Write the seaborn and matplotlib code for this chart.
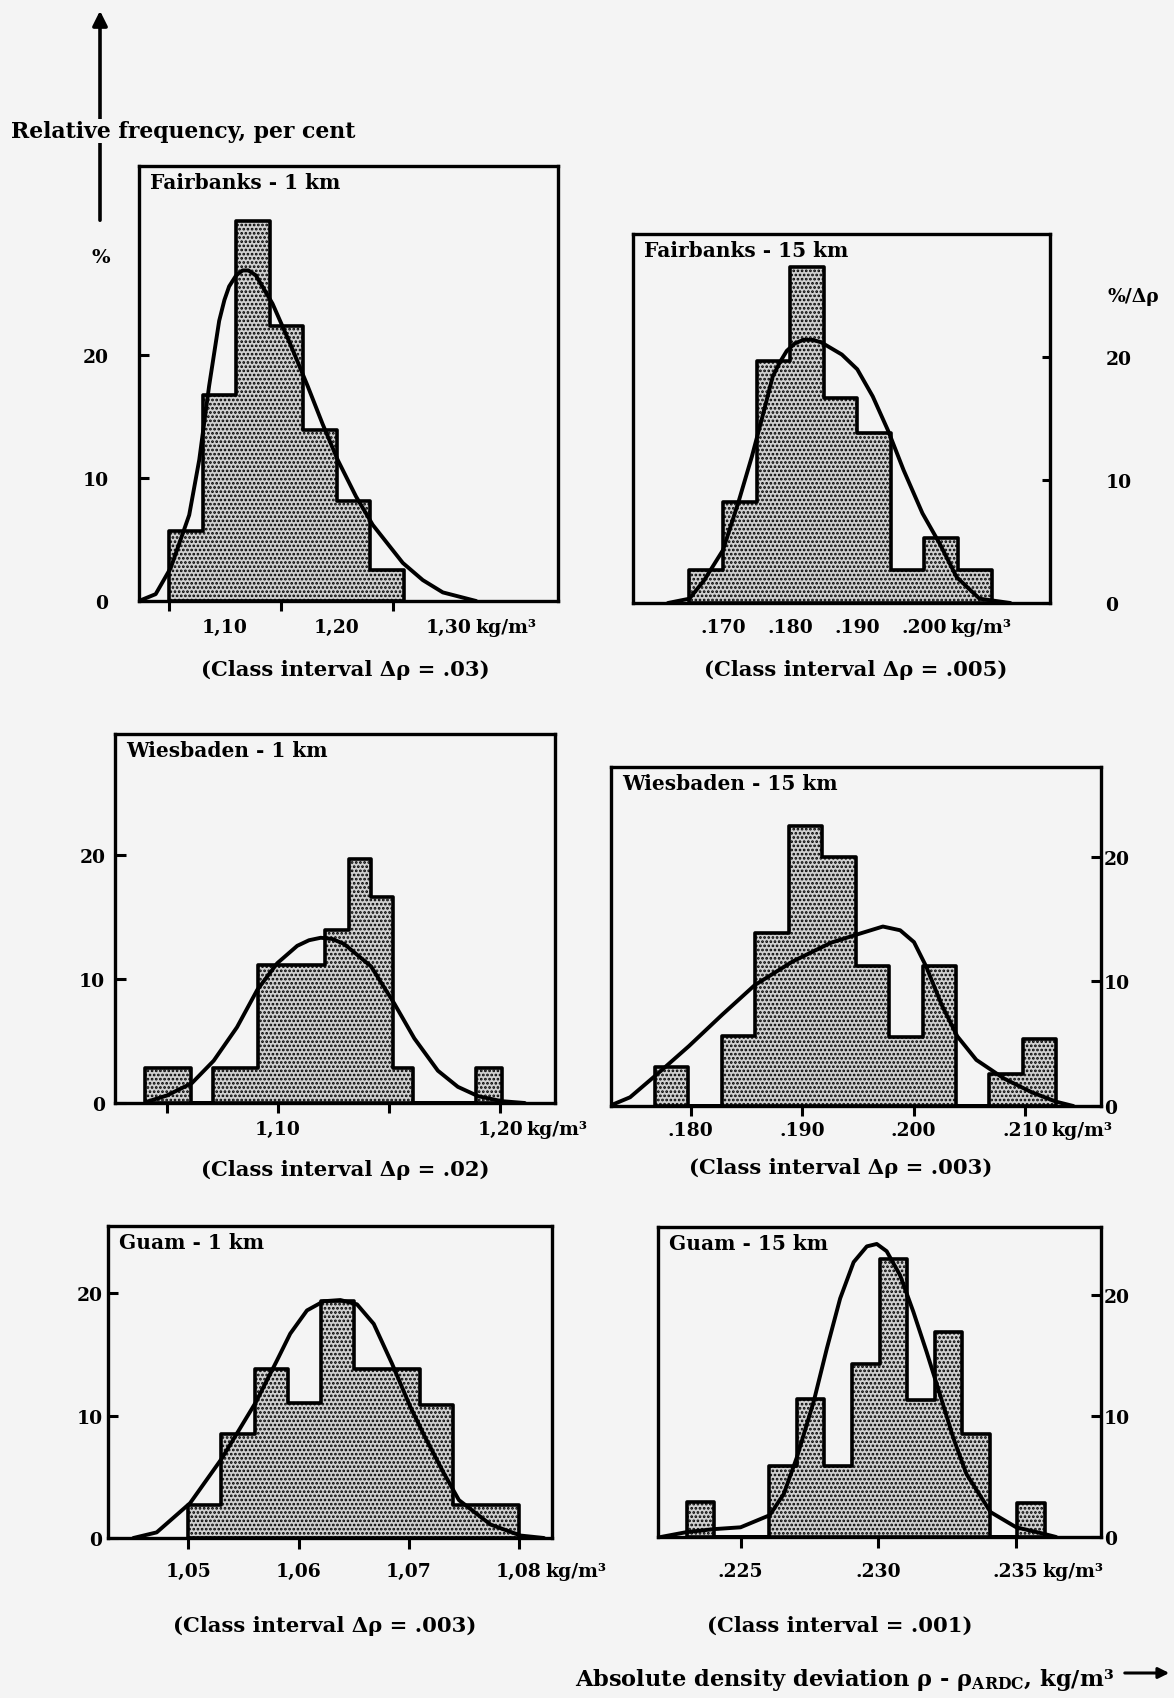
import numpy as np
import pandas as pd
import seaborn as sns
import matplotlib.pyplot as plt
from matplotlib import transforms
from matplotlib.patches import FancyArrowPatch

sns.set_theme(style="white")
plt.rcParams['font.family'] = ['DejaVu Serif']
plt.rcParams['font.weight'] = 'bold'
plt.rcParams['mathtext.fontset'] = 'dejavuserif'
plt.rcParams['mathtext.default'] = 'bf'
plt.rcParams['hatch.linewidth'] = 1.3
plt.rcParams['axes.linewidth'] = 2.3
plt.rcParams['axes.edgecolor'] = 'black'
for k in ['text.color', 'axes.labelcolor', 'xtick.color', 'ytick.color']:
    plt.rcParams[k] = 'black'

BG = '#f4f4f4'
W, H = 1174, 1699

# ---- Fairbanks 1 km (class interval .03)
fb1_edges = [1.05, 1.08, 1.11, 1.14, 1.17, 1.20, 1.23, 1.26]
fb1_pct = [5.7, 16.8, 30.9, 22.4, 13.9, 8.1, 2.5]
fb1_cx = [1.023, 1.038, 1.0515, 1.068, 1.077, 1.0858, 1.0948, 1.0995, 1.1037, 1.110, 1.1157, 1.121,
          1.1276, 1.1425, 1.1575, 1.1739, 1.1873, 1.2007, 1.2172, 1.2321, 1.2590, 1.2769, 1.2948, 1.3246]
fb1_cy = [0, 0.56, 2.7, 7.0, 11.5, 17.5, 22.8, 24.5, 25.6, 26.5, 26.9, 26.9,
          26.5, 24.2, 21.1, 17.5, 14.4, 11.5, 8.5, 6.2, 3.1, 1.7, 0.7, 0]

# ---- Fairbanks 15 km (class interval .005)
fb15_edges = [.165, .170, .175, .180, .185, .190, .195, .200, .205, .210]
fb15_pct = [2.7, 8.2, 19.7, 27.3, 16.7, 13.8, 2.7, 5.3, 2.7]
fb15_cx = [.1618, .165, .1672, .1700, .1723, .1743, .1759, .1774, .1785, .1795, .1807, .1820, .1833,
           .1846, .1877, .1900, .1923, .1946, .1969, .1997, .2023, .2048, .2082, .2128]
fb15_cy = [0, 0.35, 1.85, 4.3, 8.2, 11.9, 15.2, 18.4, 19.6, 20.5, 21.1, 21.4, 21.4,
           21.2, 20.2, 19.0, 16.8, 14.0, 10.8, 7.3, 4.8, 2.1, 0.35, 0]

# ---- Wiesbaden 1 km (class interval .02)
wb1_edges = [1.040, 1.061, 1.071, 1.091, 1.121, 1.132, 1.142, 1.152, 1.161, 1.189, 1.201]
wb1_pct = [2.85, 0, 2.85, 11.1, 13.9, 19.65, 16.6, 2.85, 0, 2.85]
wb1_cx = [1.041, 1.050, 1.0613, 1.0711, 1.0816, 1.0907, 1.0997, 1.1087, 1.1140, 1.1193, 1.1245,
          1.1298, 1.1419, 1.1524, 1.1614, 1.1720, 1.1810, 1.1901, 1.2006, 1.2111]
wb1_cy = [0.1, 0.6, 1.6, 3.4, 6.1, 9.1, 11.25, 12.65, 13.1, 13.3, 13.2,
          12.8, 11.0, 8.0, 5.2, 2.6, 1.3, 0.55, 0.15, 0]

# ---- Wiesbaden 15 km (class interval .003)
wb15_edges = [.1768, .1798, .1828, .1858, .1888, .1918, .1948, .1978, .2008, .2038, .2068, .2098, .2128]
wb15_pct = [3.1, 0, 5.6, 13.9, 22.5, 20.0, 11.2, 5.5, 11.2, 0, 2.55, 5.4]
wb15_cx = [.1727, .17457, .17705, .17984, .1828, .18575, .18916, .19258, .19506, .19724,
           .19879, .20003, .20112, .20252, .20391, .20562, .20811, .21059, .21276, .21432]
wb15_cy = [0, 0.7, 2.6, 4.8, 7.3, 9.7, 11.6, 13.1, 13.8, 14.4,
           14.1, 13.15, 11.2, 8.1, 5.6, 3.7, 2.2, 1.1, 0.35, 0]

# ---- Guam 1 km (class interval .003)
gu1_edges = [1.050, 1.053, 1.056, 1.059, 1.062, 1.065, 1.068, 1.071, 1.074, 1.077, 1.080]
gu1_pct = [2.7, 8.5, 13.8, 11.0, 19.35, 13.8, 13.8, 10.9, 2.7, 2.7]
gu1_cx = [1.0450, 1.04712, 1.05015, 1.05303, 1.05612, 1.05803, 1.05924, 1.06076, 1.06227, 1.06379,
          1.06530, 1.06682, 1.06848, 1.07015, 1.07145, 1.07318, 1.07455, 1.07742, 1.08015, 1.08227]
gu1_cy = [0, 0.46, 2.85, 6.5, 11.1, 14.5, 16.7, 18.6, 19.35, 19.45,
          19.1, 17.5, 14.25, 10.7, 8.3, 5.3, 3.1, 1.1, 0.2, 0]

# ---- Guam 15 km (class interval .001)
gu15_edges = [.22305, .22405, .22505, .22605, .22705, .22805, .22905, .23005,
              .23105, .23205, .23305, .23405, .23505, .23605]
gu15_pct = [2.9, 0, 0, 5.9, 11.4, 5.9, 14.3, 22.95, 11.3, 16.9, 8.5, 0, 2.8]
gu15_cx = [.22210, .22303, .22403, .22500, .22606, .22657, .22705, .22766, .22814, .22862, .22911, .22959,
           .22995, .23031, .23080, .23128, .23176, .23225, .23273, .23321, .23409, .23502, .23601, .23647]
gu15_cy = [0, 0.4, 0.65, 0.8, 1.8, 3.55, 6.6, 11.2, 15.6, 19.7, 22.7, 24.0,
           24.2, 23.6, 21.6, 18.6, 15.3, 11.75, 8.2, 5.2, 2.05, 0.8, 0.27, 0]


def box(l, t, r, b):
    return [l / W, 1 - b / H, (r - l) / W, (b - t) / H]


def fpos(x, y):
    return (x / W, 1 - y / H)


def panel(rect, edges, pct, cx, cy, xlim, ytop, title):
    ax = fig.add_axes(box(*rect))
    ax.set_facecolor(BG)
    mids = [(a + b) / 2 for a, b in zip(edges[:-1], edges[1:])]
    df = pd.DataFrame({'rho': mids, 'pct': pct})
    sns.histplot(data=df, x='rho', weights='pct', bins=list(edges), element='step', fill=True,
                 stat='count', facecolor='#d0d0d0', edgecolor='black', linewidth=2.6,
                 hatch='....', alpha=1, ax=ax, zorder=2)
    sns.lineplot(x=cx, y=cy, color='black', linewidth=2.8, sort=False, ax=ax, zorder=3,
                 solid_joinstyle='round', solid_capstyle='round')
    ax.set_xlim(*xlim)
    ax.set_ylim(0, ytop)
    ax.set_xlabel('')
    ax.set_ylabel('')
    for s in ax.spines.values():
        s.set_linewidth(2.4)
        s.set_zorder(4)
    ax.annotate(title, xy=(0, 1), xycoords='axes fraction', xytext=(8, -4.5),
                textcoords='offset points', ha='left', va='top', fontsize=14.5, zorder=5)
    return ax


def units(ax, x, down):
    ax.annotate('kg/m³', xy=(x, 0), xycoords=('data', 'axes fraction'), xytext=(19, -down),
                textcoords='offset points', ha='left', va='top', fontsize=13.5)


fig = plt.figure(figsize=(11.74, 16.99), dpi=100, facecolor=BG)

# Fairbanks 1 km
ax = panel((139, 167, 558, 602), fb1_edges, fb1_pct, fb1_cx, fb1_cy, (1.0231, 1.3978), 35.4,
           'Fairbanks - 1 km')
ax.set_yticks([0, 10, 20], ['0', '10', '20'])
ax.tick_params(axis='y', direction='in', length=7, width=2.2, pad=22, labelsize=13.5, left=True)
ax.set_xticks([1.10, 1.20, 1.30], ['1,10', '1,20', '1,30'])
ax.set_xticks([1.05, 1.15, 1.25], minor=True)
ax.tick_params(axis='x', which='major', length=0, pad=12, labelsize=13.5)
ax.tick_params(axis='x', which='minor', direction='out', length=7, width=2.2, bottom=True)
units(ax, 1.30, 12)
tr = transforms.blended_transform_factory(ax.transAxes, ax.transData)
ax.text(-0.092, 28, '%', transform=tr, ha='center', va='center', fontsize=14)

# Fairbanks 15 km
ax = panel((633, 235, 1050, 604), fb15_edges, fb15_pct, fb15_cx, fb15_cy, (.1566, .2187), 30.0,
           'Fairbanks - 15 km')
ax.yaxis.tick_right()
ax.set_yticks([0, 10, 20], ['0', '10', '20'])
ax.tick_params(axis='y', direction='in', length=6, width=2.2, pad=40, labelsize=13.5,
               right=True, left=False)
ax.set_xticks([.170, .180, .190, .200], ['.170', '.180', '.190', '.200'])
ax.tick_params(axis='x', length=0, pad=11, labelsize=13.5)
units(ax, .200, 11)
tr = transforms.blended_transform_factory(ax.transAxes, ax.transData)
ax.text(1.2, 25, '%/Δρ', transform=tr, ha='center', va='center', fontsize=13.5)

# Wiesbaden 1 km
ax = panel((115, 735, 555, 1104), wb1_edges, wb1_pct, wb1_cx, wb1_cy, (1.0267, 1.2247), 29.7,
           'Wiesbaden - 1 km')
ax.set_yticks([0, 10, 20], ['0', '10', '20'])
ax.tick_params(axis='y', direction='in', length=8, width=2.2, pad=7, labelsize=13.5, left=True)
ax.set_xticks([1.05, 1.10, 1.15, 1.20], ['', '1,10', '', '1,20'])
ax.tick_params(axis='x', direction='out', length=7, width=2.2, pad=5, labelsize=13.5, bottom=True)
units(ax, 1.20, 12)

# Wiesbaden 15 km
ax = panel((611, 768, 1101, 1107), wb15_edges, wb15_pct, wb15_cx, wb15_cy, (.17286, .2168), 27.2,
           'Wiesbaden - 15 km')
ax.yaxis.tick_right()
ax.set_yticks([0, 10, 20], ['0', '10', '20'])
ax.tick_params(axis='y', direction='in', length=7, width=2.2, pad=2, labelsize=13.5,
               right=True, left=False)
ax.set_xticks([.180, .190, .200, .210], ['.180', '.190', '.200', '.210'])
ax.tick_params(axis='x', direction='out', length=7, width=2.2, pad=4, labelsize=13.5, bottom=True)
units(ax, .210, 11)

# Guam 1 km
ax = panel((108, 1227, 552, 1539), gu1_edges, gu1_pct, gu1_cx, gu1_cy, (1.0427, 1.0830), 25.5,
           'Guam - 1 km')
ax.set_yticks([0, 10, 20], ['0', '10', '20'])
ax.tick_params(axis='y', direction='in', length=7, width=2.2, pad=4, labelsize=13.5, left=True)
ax.set_xticks([1.05, 1.06, 1.07, 1.08], ['1,05', '1,06', '1,07', '1,08'])
ax.tick_params(axis='x', direction='out', length=8, width=2.2, pad=9, labelsize=13.5, bottom=True)
units(ax, 1.08, 17)

# Guam 15 km
ax = panel((658, 1228, 1101, 1538), gu15_edges, gu15_pct, gu15_cx, gu15_cy, (.2220, .2381), 25.6,
           'Guam - 15 km')
ax.yaxis.tick_right()
ax.set_yticks([0, 10, 20], ['0', '10', '20'])
ax.tick_params(axis='y', direction='in', length=7, width=2.2, pad=2, labelsize=13.5,
               right=True, left=False)
ax.set_xticks([.225, .230, .235], ['.225', '.230', '.235'])
ax.tick_params(axis='x', direction='out', length=8, width=2.2, pad=10, labelsize=13.5, bottom=True)
units(ax, .235, 18)

# captions
captions = [((345, 670), '(Class interval Δρ = .03)'),
            ((856, 670), '(Class interval Δρ = .005)'),
            ((345, 1170), '(Class interval Δρ = .02)'),
            ((841, 1168), '(Class interval Δρ = .003)'),
            ((325, 1626), '(Class interval Δρ = .003)'),
            ((840, 1626), '(Class interval = .001)')]
for (cx_, cy_), txt in captions:
    fig.text(*fpos(cx_, cy_), txt, ha='center', va='center', fontsize=15.2)

# y-direction arrow and label
fig.add_artist(FancyArrowPatch(fpos(100, 224), fpos(100, 9), transform=fig.transFigure,
                               arrowstyle='-|>', mutation_scale=22, lw=2.6, color='black'))
fig.text(*fpos(11, 132), 'Relative frequency, per cent', ha='left', va='center', fontsize=15.8,
         bbox=dict(facecolor=BG, edgecolor='none', pad=1))

# x-direction label and arrow
fig.text(*fpos(575, 1680), r'Absolute density deviation ρ - ρ$_{ARDC}$, kg/m³', ha='left',
         va='center', fontsize=16.2)
fig.add_artist(FancyArrowPatch(fpos(1122, 1674), fpos(1172, 1674), transform=fig.transFigure,
                               arrowstyle='-|>', mutation_scale=16, lw=2.2, color='black'))

fig.savefig('out.png', dpi=100, facecolor=BG)
